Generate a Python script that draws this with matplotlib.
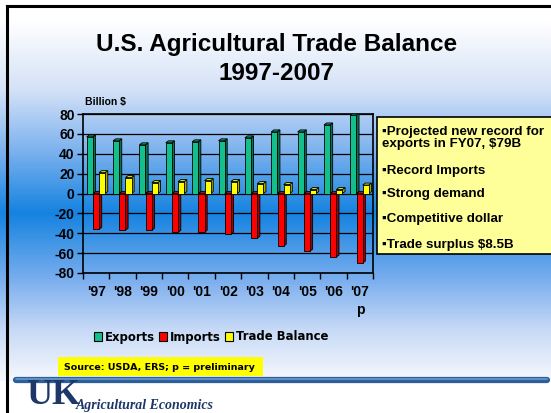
import numpy as np
import matplotlib
matplotlib.use("Agg")
import matplotlib.pyplot as plt
from matplotlib.patches import Polygon, Rectangle, Patch
from matplotlib.colors import LinearSegmentedColormap

years = ["'97", "'98", "'99", "'00", "'01", "'02", "'03", "'04", "'05", "'06", "'07"]
exports = [57, 53, 49, 51, 52, 53, 56, 62, 62, 69, 79]
imports = [-36, -37, -37, -39, -39, -41, -45, -53, -58, -64, -70]
balance = [21, 16, 11, 12, 13, 12, 10, 9, 4, 4, 8.5]
yticks = [80, 60, 40, 20, 0, -20, -40, -60, -80]
notes = ["\u25aaProjected new record for\nexports in FY07, $79B",
         "\u25aaRecord Imports",
         "\u25aaStrong demand",
         "\u25aaCompetitive dollar",
         "\u25aaTrade surplus $8.5B"]

W, H = 551, 413
fig = plt.figure(figsize=(W / 100, H / 100), dpi=100)

# slide background gradient
bg = fig.add_axes([0, 0, 1, 1])
bg.set_xlim(0, W)
bg.set_ylim(H, 0)
bg.axis("off")
stops = [(0.0, "#ffffff"), (20 / H, "#ffffff"), (90 / H, "#d3e1f7"),
         (150 / H, "#7db2ee"), (213 / H, "#1583e0"), (280 / H, "#7aaeee"),
         (330 / H, "#c6d9f6"), (376 / H, "#f1f5fd"), (1.0, "#ffffff")]
cmap = LinearSegmentedColormap.from_list("slide", stops)
grad = np.linspace(0, 1, 400).reshape(-1, 1)
bg.imshow(grad, cmap=cmap, aspect="auto", extent=[0, W, H, 0], zorder=0)
bg.add_patch(Rectangle((0, 381), W, H - 381, color="white", zorder=1))
bg.plot([7, 7], [6, H], color="black", lw=2.2, zorder=3)
bg.plot([7, W], [6, 6], color="black", lw=2.2, zorder=3)
bg.plot([16, 547], [380, 380], color="#2c5f9c", lw=4.5, solid_capstyle="round", zorder=3)
bg.plot([16, 547], [378.8, 378.8], color="#6a9cc8", lw=1.2, solid_capstyle="round", zorder=4)

fig.text(277 / W, 1 - 45 / H, "U.S. Agricultural Trade Balance",
         ha="center", va="center", fontsize=17.5, fontweight="bold", family="Liberation Sans")
fig.text(277 / W, 1 - 73 / H, "1997-2007",
         ha="center", va="center", fontsize=17.5, fontweight="bold", family="Liberation Sans")

# chart
ax = fig.add_axes([83 / W, 1 - 273 / H, 290 / W, 159 / H])
ax.patch.set_alpha(0)
ax.set_xlim(-0.5, len(years) - 0.5)
ax.set_ylim(-80, 80)
for yv in yticks:
    ax.axhline(yv, color="black", lw=0.9, zorder=1)

dx, dy = 0.1, 2.0


def bar3d(x, w, h, face, side, top):
    y0, y1 = min(0, h), max(0, h)
    ax.add_patch(Polygon([(x + w, y0), (x + w + dx, y0 + dy), (x + w + dx, y1 + dy), (x + w, y1)],
                         facecolor=side, edgecolor="black", lw=0.6, zorder=3))
    ax.add_patch(Polygon([(x, y1), (x + dx, y1 + dy), (x + w + dx, y1 + dy), (x + w, y1)],
                         facecolor=top, edgecolor="black", lw=0.6, zorder=3))
    ax.add_patch(Rectangle((x, y0), w, y1 - y0, facecolor=face, edgecolor="black", lw=0.6, zorder=3))


bw = 0.23
xs = np.arange(len(years))
for i in range(len(years)):
    bar3d(xs[i] - 0.36, bw, exports[i], "#13c08c", "#0a7052", "#0d9a70")
    bar3d(xs[i] - 0.12, bw, imports[i], "#ff0000", "#a00000", "#d00000")
    bar3d(xs[i] + 0.11, bw, balance[i], "#ffff00", "#a8a800", "#dddd00")

ax.set_yticks(yticks)
ax.set_yticklabels([str(v) for v in yticks], fontsize=10, fontweight="bold", family="Liberation Sans")
ax.set_xticks(xs)
ax.set_xticklabels(years, fontsize=10, fontweight="bold", family="Liberation Sans")
ax.set_xticks(np.arange(-0.5, len(years)), minor=True)
ax.tick_params(axis="x", which="major", length=0, pad=9)
ax.tick_params(axis="x", which="minor", length=4, width=1)
ax.tick_params(axis="y", length=4, width=1, pad=2)
for s in ax.spines.values():
    s.set_linewidth(1.2)
ax.text(xs[-1], -117, "p", ha="center", va="center", fontsize=10,
        fontweight="bold", family="Liberation Sans")
fig.text(85 / W, 1 - 102 / H, "Billion $", ha="left", va="center", fontsize=7.5,
         fontweight="bold", family="Liberation Sans")

# notes box
fig.patches.append(Rectangle((377 / W, 1 - 254 / H), 176 / W, 137 / H, transform=fig.transFigure,
                             facecolor="#ffff99", edgecolor="black", lw=1.2, zorder=5))
note_y = [137.5, 171, 194, 219, 245]
for txt, yy in zip(notes, note_y):
    fig.text(382 / W, 1 - yy / H, txt, ha="left", va="center", fontsize=9.6, fontweight="bold",
             family=["Liberation Sans", "DejaVu Sans"], linespacing=1.0, zorder=6)

# legend
handles = [Patch(facecolor=c, edgecolor="black", lw=0.8) for c in ["#13c08c", "#ff0000", "#ffff00"]]
leg = fig.legend(handles, ["Exports", "Imports", "Trade Balance"], loc="center",
                 bbox_to_anchor=(211 / W, 1 - 337 / H), ncol=3,
                 prop={"family": "DejaVu Sans", "weight": "bold", "size": 8.4},
                 handlelength=0.7, handleheight=0.7, handletextpad=0.2, columnspacing=0.4,
                 borderpad=0.3, fancybox=False, framealpha=0)
leg.get_frame().set_edgecolor("black")
leg.get_frame().set_linewidth(1.0)

# source
fig.patches.append(Rectangle((58 / W, 1 - 376 / H), 205 / W, 19 / H, transform=fig.transFigure,
                             facecolor="#ffff00", edgecolor="none", zorder=5))
fig.text(64 / W, 1 - 367 / H, "Source: USDA, ERS; p = preliminary", ha="left", va="center",
         fontsize=6.8, fontweight="bold", family="DejaVu Sans", zorder=6)

# logo
fig.text(26 / W, 1 - 412.5 / H, "UK", ha="left", va="bottom", fontsize=26, fontweight="bold",
         family="Liberation Serif", color="#1d3768")
fig.text(76 / W, 1 - 409 / H, "Agricultural Economics", ha="left", va="baseline", fontsize=10,
         fontweight="bold", style="italic", family="Liberation Serif", color="#1d3768")

fig.savefig("out.png", dpi=100)
